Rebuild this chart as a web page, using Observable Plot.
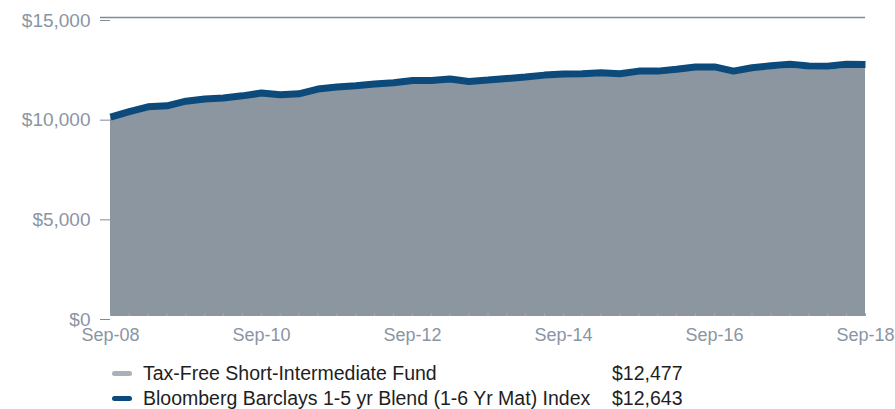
<!DOCTYPE html>
<html>
<head>
<meta charset="utf-8">
<script src="https://cdn.jsdelivr.net/npm/d3@7"></script>
<script src="https://cdn.jsdelivr.net/npm/@observablehq/plot@0.6"></script>
<style>
  body { margin: 0; background: #fff; font-family: "Liberation Sans", Arial, sans-serif; }
  #wrap { position: relative; width: 895px; height: 409px; overflow: hidden; }
  #chart { position: absolute; left: 0; top: 0; }
  #legend { position: absolute; left: 112px; top: 361px; font-size: 19.5px; color: #1e1e1e; }
  .row { position: relative; height: 24.5px; line-height: 25px; white-space: nowrap; }
  .sw { position: absolute; left: 0; top: 10px; width: 20px; height: 5px; border-radius: 2.5px; }
  .lab { position: absolute; left: 31px; }
  .val { position: absolute; left: 500px; }
</style>
</head>
<body>
<div id="wrap">
  <div id="chart"></div>
  <div id="legend"></div>
</div>
<script>
const fundName = "Tax-Free Short-Intermediate Fund";
const indexName = "Bloomberg Barclays 1-5 yr Blend (1-6 Yr Mat) Index";
const fundEnd = "$12,477";
const indexEnd = "$12,643";

// quarterly values, Sep-08 .. Sep-18
const indexValues = [10000,10280,10520,10570,10800,10910,10960,11070,11210,11120,11170,11410,11510,11580,11660,11730,11840,11840,11910,11790,11860,11940,12010,12110,12160,12180,12230,12180,12310,12310,12400,12520,12520,12310,12480,12580,12650,12570,12550,12650,12643];
const fundValues  = [10000,10270,10500,10545,10770,10875,10920,11025,11160,11065,11110,11345,11440,11505,11580,11645,11750,11745,11810,11685,11750,11825,11890,11985,12030,12045,12090,12035,12160,12155,12240,12355,12350,12135,12300,12395,12460,12375,12350,12455,12477];
const yTicks = [0, 5000, 10000, 15000];
const xTickLabels = ["Sep-08","Sep-10","Sep-12","Sep-14","Sep-16","Sep-18"];

const dates = d3.utcMonths(new Date(Date.UTC(2008, 8, 1)), new Date(Date.UTC(2018, 9, 1)), 3);
const data = dates.map((d, i) => ({date: d, fund: fundValues[i], index: indexValues[i]}));
const xTicks = xTickLabels.map(s => new Date(Date.UTC(2000 + +s.slice(4), 8, 1)));
const fmtX = d => xTickLabels[xTicks.findIndex(t => +t === +d)];

const axisColor = "#8a95a4";

const chart = Plot.plot({
  width: 895,
  height: 352,
  marginLeft: 110,
  marginRight: 30,
  marginTop: 17,
  marginBottom: 36,
  style: { fontFamily: "'Liberation Sans', Arial, sans-serif", fontSize: "18px", color: axisColor, background: "#fff", overflow: "visible" },
  x: { type: "utc", domain: [dates[0], dates[dates.length - 1]] },
  y: { domain: [0, 15000] },
  marks: [
    Plot.areaY(data, { x: "date", y: "fund", fill: "#8c96a1" }),
    Plot.ruleX(data, { x: "date", y1: 0, y2: 140, stroke: "#a0a9b3", strokeWidth: 1 }),
    Plot.ruleY([15000], { stroke: "#7f8b99", strokeWidth: 1.3, insetLeft: -10 }),
    Plot.line(data, { x: "date", y: "index", stroke: "#0b4a7b", strokeWidth: 7, strokeLinejoin: "miter", strokeLinecap: "butt" }),
    Plot.axisY({ ticks: yTicks, tickSize: 10, tickPadding: 10, tickFormat: d => "$" + d3.format(",")(d), stroke: "#7f8b99", fill: axisColor, label: null, fontSize: 19, dy: 3 }),
    Plot.axisX({ ticks: xTicks, tickSize: 0, tickPadding: 12, tickFormat: fmtX, fill: axisColor, label: null, fontSize: 18 })
  ]
});
document.getElementById("chart").appendChild(chart);

const legend = document.getElementById("legend");
[[fundName, fundEnd, "#a8b0ba"], [indexName, indexEnd, "#0b4a7b"]].forEach(([n, v, c]) => {
  const r = document.createElement("div");
  r.className = "row";
  r.innerHTML = `<span class="sw" style="background:${c}"></span><span class="lab">${n}</span><span class="val">${v}</span>`;
  legend.appendChild(r);
});
</script>
</body>
</html>
